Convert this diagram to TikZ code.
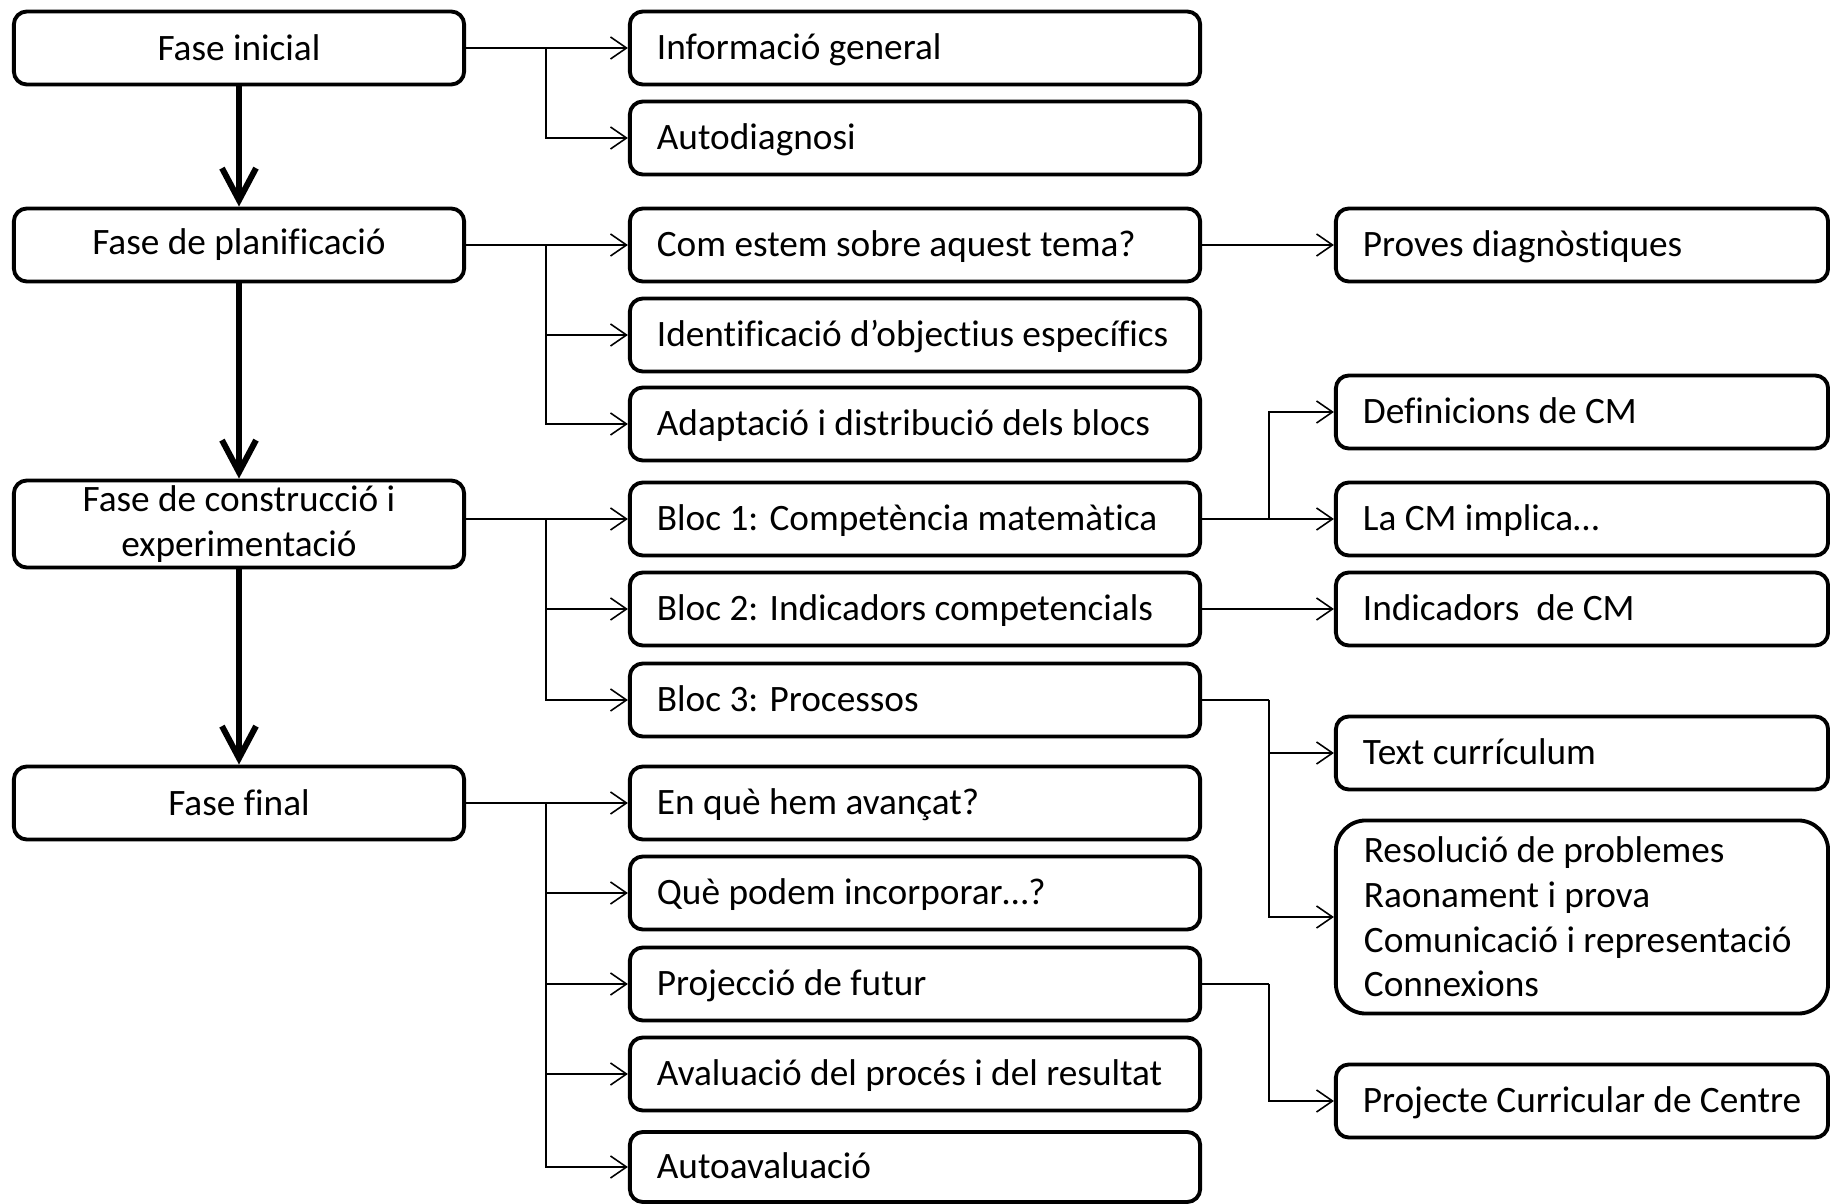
\documentclass[tikz,border=0pt]{standalone}
\usepackage{fontspec}
\setmainfont{Carlito}[Ligatures=CommonOff]
\usetikzlibrary{arrows.meta}
\newcommand\boxfont{\fontsize{10.6}{12.7}\selectfont\hyphenpenalty=10000\relax}

\begin{document}
\begin{tikzpicture}[x=0.01cm, y=-0.01cm, font=\boxfont,
   fase/.style={draw, rounded corners=1.3mm, line width=1.1pt, minimum width=4.5cm, minimum height=0.73cm, align=center, inner sep=0pt},
   item/.style={draw, rounded corners=1.3mm, line width=1.1pt, text width=5.16cm, inner xsep=0.27cm, minimum height=0.73cm, text height=9.3pt, text depth=2.5pt, align=flush left},
   leaf/.style={draw, rounded corners=1.3mm, line width=1.1pt, text width=4.38cm, inner xsep=0.27cm, minimum height=0.73cm, text height=9.3pt, text depth=2.5pt, align=flush left},
   blok/.style={draw, rounded corners=3mm, line width=1.1pt, text width=4.36cm, inner xsep=0.28cm, minimum height=1.93cm, align=flush left},
   link/.style={-{Straight Barb[length=1.6mm,width=2.2mm]}, line width=0.45pt},
   stub/.style={line width=0.7pt},
   down/.style={-{Straight Barb[length=3.2mm,width=3.4mm]}, line width=1.7pt}]
\useasboundingbox (0,0) rectangle (1830,1204);

\node[fase] (fi) at (239, 48) {Fase inicial};
\node[fase] (fp) at (239, 245) {Fase de planificació};
\node[fase, minimum height=0.87cm] (fc) at (239, 524) {Fase de construcció i\\experimentació};
\node[fase] (ff) at (239, 803) {Fase final};

\node[item] (ig) at (915, 48) {Informació general};
\node[item] (ad) at (915, 138) {Autodiagnosi};
\node[item] (ce) at (915, 245) {Com estem sobre aquest tema?};
\node[item] (io) at (915, 335) {Identificació d’objectius específics};
\node[item] (ab) at (915, 424) {Adaptació i distribució dels blocs};
\node[item] (b1) at (915, 519) {Bloc 1: Competència matemàtica};
\node[item] (b2) at (915, 609) {Bloc 2: Indicadors competencials};
\node[item] (b3) at (915, 700) {Bloc 3: Processos};
\node[item] (eq) at (915, 803) {En què hem avançat?};
\node[item] (qp) at (915, 893) {Què podem incorporar…?};
\node[item] (pf) at (915, 984) {Projecció de futur};
\node[item] (ap) at (915, 1074) {Avaluació del procés i del resultat};
\node[item, minimum height=0.70cm] (aa) at (915, 1167) {Autoavaluació};

\node[leaf] (pd) at (1582, 245) {Proves diagnòstiques};
\node[leaf] (dc) at (1582, 412) {Definicions de CM};
\node[leaf] (lc) at (1582, 519) {La CM implica…};
\node[leaf] (ic) at (1582, 609) {Indicadors\ \ de CM};
\node[leaf] (tc) at (1582, 753) {Text currículum};
\node[blok] (rp) at (1582, 917)
   {Resolució de problemes\\Raonament i prova\\Comunicació i representació\\Connexions};
\node[leaf] (pc) at (1582, 1101) {Projecte Curricular de Centre};

\coordinate (s1) at (546, 48);
\coordinate (s2) at (546, 245);
\coordinate (s3) at (546, 519);
\coordinate (s4) at (546, 803);
\coordinate (t1) at (1269, 519);
\coordinate (t2) at (1269, 700);
\coordinate (t3) at (1269, 984);

\draw[down] (fi) -- (fp);
\draw[down] (fp) -- (fc);
\draw[down] (fc) -- (ff);

\draw[stub] (fi) -- (s1);
\draw[link] (s1) -- (ig);
\draw[link] (s1) |- (ad);

\draw[stub] (fp) -- (s2);
\draw[link] (s2) -- (ce);
\draw[link] (s2) |- (io);
\draw[link] (s2) |- (ab);

\draw[stub] (fc.east |- s3) -- (s3);
\draw[link] (s3) -- (b1);
\draw[link] (s3) |- (b2);
\draw[link] (s3) |- (b3);

\draw[stub] (ff) -- (s4);
\draw[link] (s4) -- (eq);
\draw[link] (s4) |- (qp);
\draw[link] (s4) |- (pf);
\draw[link] (s4) |- (ap);
\draw[link] (s4) |- (aa);

\draw[link] (ce) -- (pd);
\draw[stub] (b1) -- (t1);
\draw[link] (t1) |- (dc);
\draw[link] (t1) -- (lc);
\draw[link] (b2) -- (ic);
\draw[stub] (b3) -- (t2);
\draw[link] (t2) |- (tc);
\draw[link] (t2) |- (rp);
\draw[stub] (pf) -- (t3);
\draw[link] (t3) |- (pc);

\end{tikzpicture}
\end{document}
